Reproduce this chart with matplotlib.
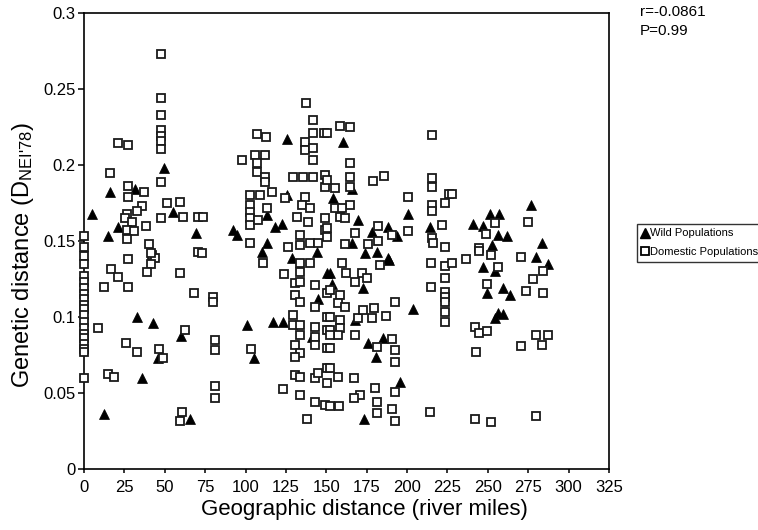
import matplotlib
matplotlib.use("Agg")
import matplotlib.pyplot as plt
from matplotlib.lines import Line2D

plt.rcParams['font.family'] = ['Liberation Sans', 'DejaVu Sans']
plt.rcParams['mathtext.fontset'] = 'custom'
plt.rcParams['mathtext.rm'] = 'Liberation Sans'
plt.rcParams['mathtext.it'] = 'Liberation Sans:italic'
plt.rcParams['mathtext.bf'] = 'Liberation Sans:bold'

# ---- data ----
wild_x = [5, 16.1, 31.6, 49.5, 55.1, 21, 14.9, 69.3, 32.8, 42.7, 60, 45.8, 35.9, 12.4, 65.6,
          125.7, 92.3, 94.7, 118.3, 122.6, 113.3, 113.3, 110.2, 128.8, 144.3, 125.7, 150.5,
          144.9, 100.9, 117, 123.2, 105.3, 141.2,
          160.4, 165.9, 154.2, 169.7, 200.6, 214.2, 188.2, 178.3, 193.8, 174, 181.4, 188.2,
          165.9, 188.9, 152.3, 153.6, 172.8, 167.8, 175.9, 185.1, 180.8, 203.7, 195.7, 173.4,
          276.8, 251.4, 257, 240.9, 247.1, 256.3, 261.9, 283.6, 252.6, 279.9,
          247.1, 254.5, 287.3, 249.5, 259.4, 263.8, 256.3, 254.5, 259.4]
wild_y = [0.168, 0.182, 0.184, 0.198, 0.169, 0.159, 0.153, 0.155, 0.100, 0.096, 0.0875, 0.073,
          0.060, 0.036, 0.033,
          0.217, 0.157, 0.154, 0.159, 0.161, 0.167, 0.149, 0.143, 0.139, 0.143, 0.180, 0.129,
          0.112, 0.095, 0.097, 0.097, 0.073, 0.087,
          0.215, 0.184, 0.178, 0.164, 0.168, 0.159, 0.159, 0.156, 0.153, 0.142, 0.143, 0.139,
          0.149, 0.1375, 0.129, 0.122, 0.119, 0.098, 0.083, 0.086, 0.074, 0.105, 0.057, 0.033,
          0.174, 0.168, 0.168, 0.161, 0.160, 0.154, 0.153, 0.149, 0.1474, 0.1395,
          0.133, 0.130, 0.135, 0.116, 0.119, 0.1145, 0.1026, 0.0993, 0.102]

dom_x = [0] * 20 + [
    47.7, 47.7, 47.7, 47.7, 47.7, 47.7, 47.7, 21, 27.2, 16.1, 47.7, 27.2, 27.2, 37.2, 51.4,
    59.4, 35.9, 32.8, 26.6, 25.4, 29.7, 47.7, 61.3, 70.6, 26.6, 31, 38.4, 26.6, 40.2, 42.1,
    44, 70.6, 27.2, 41.5, 41.5, 39, 16.7, 21, 27.2, 12.4, 59.4, 68.1, 8.7, 62.5, 26, 32.8,
    46.4, 48.9, 14.9, 18.6, 60.7, 59.4,
    73.7, 73, 79.9, 79.9, 81.1, 81.1, 81.1, 81.1,
    137.5, 141.8, 107.1, 112.7, 141.8, 148.6, 136.8, 97.8, 105.9, 112, 107.1, 107.1, 112,
    129.4, 135.6, 141.8, 136.8, 141.8, 141.8, 149.2, 149.2, 112, 102.8, 109, 116.4, 124.5,
    102.8, 113.3, 136.8, 135, 139.9, 131.9, 138.7, 149.2, 102.8, 102.8, 102.8, 107.7, 102.8,
    126.3, 133.7, 133.7, 139.9, 144.9, 149.2, 110.8, 123.8, 130.7, 133.7, 133.7, 139.9,
    133.7, 143, 130.7, 133.7, 143, 129.4, 129.4, 133.7, 133.7, 130.7, 133.7, 130.7, 143,
    143, 143, 150.5, 150.5, 150.5, 130.7, 133.7, 123.2, 133.7, 143, 144.9, 143, 149.2,
    138.1, 150.5, 150.5, 103.4,
    158.5, 164.7, 150.5, 215.5, 164.7, 164.7, 164.7, 178.9, 185.8, 155.4, 150.5, 215.5,
    215.5, 200.6, 226, 223.5, 215.5, 215.5, 164.7, 155.4, 159.8, 158.5, 161.6, 150.5,
    150.5, 200.6, 221.7, 215.5, 216.1, 223.5, 167.8, 161.6, 175.9, 182, 182, 190.7,
    159.8, 162.2, 167.8, 172.1, 175.2, 183.3, 152.3, 158.5, 157.3, 161.6, 152.3, 158.5,
    158.5, 152.3, 157.3, 152.3, 152.3, 169.7, 172.8, 178.3, 179.6, 187, 167.8, 181.4,
    190.7, 192.6, 192.6, 192.6, 152.3, 157.3, 150.5, 167.2, 180.2, 170.9, 167.2, 181.4,
    181.4, 190.7, 192.6, 192.6, 152.3, 157.9, 214.2, 214.9, 223.5, 227.9, 214.9, 223.5,
    223.5, 223.5, 223.5, 223.5, 223.5,
    274.9, 248.9, 254.5, 244.6, 227.9, 252, 236.5, 270.6, 244.6, 256.3, 284.2, 278, 249.5,
    273.7, 284.2, 242.1, 244.6, 249.5, 242.7, 270.6, 279.9, 287.3, 283.6, 242.1, 252, 279.9]
dom_y = [0.153, 0.146, 0.140, 0.135, 0.127, 0.123, 0.119, 0.115, 0.112, 0.108, 0.105, 0.101,
         0.097, 0.093, 0.089, 0.086, 0.082, 0.079, 0.077, 0.060] + [
    0.273, 0.244, 0.233, 0.223, 0.219, 0.216, 0.2105, 0.2145, 0.213, 0.195, 0.189, 0.186,
    0.179, 0.182, 0.175, 0.1757, 0.173, 0.170, 0.168, 0.165, 0.1625, 0.165, 0.166, 0.166,
    0.157, 0.1566, 0.160, 0.151, 0.148, 0.141, 0.139, 0.143, 0.138, 0.142, 0.135, 0.1296,
    0.1316, 0.126, 0.120, 0.120, 0.129, 0.116, 0.093, 0.0914, 0.083, 0.077, 0.079, 0.073,
    0.0625, 0.0605, 0.0375, 0.0316,
    0.166, 0.142, 0.113, 0.110, 0.085, 0.078, 0.0546, 0.0467,
    0.241, 0.2296, 0.2204, 0.2184, 0.221, 0.221, 0.215, 0.2033, 0.2066, 0.2066, 0.2013,
    0.1954, 0.192, 0.192, 0.192, 0.192, 0.2099, 0.2112, 0.2033, 0.1934, 0.1855, 0.1888,
    0.1803, 0.1803, 0.1822, 0.1783, 0.1737, 0.1717, 0.179, 0.1737, 0.1717, 0.1658, 0.1625,
    0.1651, 0.169, 0.165, 0.1605, 0.1638, 0.1487, 0.146, 0.154, 0.1474, 0.1487, 0.1487,
    0.157, 0.1355, 0.128, 0.1224, 0.1355, 0.1296, 0.1355, 0.123, 0.121, 0.1145, 0.110,
    0.1066, 0.1013, 0.0947, 0.0947, 0.088, 0.0816, 0.0763, 0.0737, 0.0934, 0.0868, 0.0816,
    0.100, 0.0914, 0.0796, 0.0618, 0.0605, 0.0526, 0.0487, 0.060, 0.063, 0.044, 0.042,
    0.033, 0.116, 0.0664, 0.079,
    0.2257, 0.225, 0.221, 0.2197, 0.2013, 0.192, 0.1855, 0.1895, 0.1928, 0.185, 0.190,
    0.1914, 0.1855, 0.179, 0.181, 0.175, 0.1737, 0.170, 0.1737, 0.1717, 0.1717, 0.1658,
    0.165, 0.1586, 0.1526, 0.1566, 0.1605, 0.152, 0.1487, 0.146, 0.1553, 0.148, 0.148,
    0.150, 0.160, 0.154,
    0.1355, 0.129, 0.123, 0.129, 0.1257, 0.134, 0.1178, 0.1145, 0.109, 0.1066, 0.100,
    0.098, 0.0928, 0.0914, 0.088, 0.088, 0.0796, 0.0993, 0.1046, 0.0993, 0.106, 0.1007,
    0.088, 0.080, 0.0855, 0.0783, 0.0704, 0.110, 0.0664, 0.0605, 0.0566, 0.060, 0.0533,
    0.0487, 0.0467, 0.044, 0.0368, 0.0395, 0.0316, 0.0507, 0.0414, 0.0414, 0.0375, 0.1355,
    0.1336, 0.1355, 0.1197, 0.1257, 0.1164, 0.1132, 0.110, 0.1033, 0.0967,
    0.1625, 0.1546, 0.162, 0.1454, 0.181, 0.141, 0.138, 0.1395, 0.1434, 0.133, 0.130,
    0.125, 0.1217, 0.117, 0.1158, 0.0934, 0.0895, 0.0908, 0.077, 0.081, 0.088, 0.088,
    0.0816, 0.0329, 0.0309, 0.0349]

x_ticks = [0, 25, 50, 75, 100, 125, 150, 175, 200, 225, 250, 275, 300, 325]
y_ticks = [0, 0.05, 0.1, 0.15, 0.2, 0.25, 0.3]
y_tick_labels = ["0", "0.05", "0.1", "0.15", "0.2", "0.25", "0.3"]
series_names = ["Wild Populations", "Domestic Populations"]
stats_text = "r=-0.0861\nP=0.99"

# ---- figure ----
fig = plt.figure(figsize=(7.58, 5.30), dpi=100)
ax = fig.add_axes([84 / 758, 1 - 469 / 530, (609 - 84) / 758, (469 - 13) / 530])

ax.plot(wild_x, wild_y, linestyle='none', marker='^', markersize=7.4,
        markerfacecolor='black', markeredgecolor='black', markeredgewidth=0.5,
        clip_on=False, zorder=3)
ax.plot(dom_x, dom_y, linestyle='none', marker='s', markersize=6.2,
        markerfacecolor='white', markeredgecolor='#1a1a1a', markeredgewidth=1.3,
        clip_on=False, zorder=4)

ax.set_xlim(0, 325)
ax.set_ylim(0, 0.3)
ax.set_xticks(x_ticks)
ax.set_xticklabels([str(t) for t in x_ticks])
ax.set_yticks(y_ticks)
ax.set_yticklabels(y_tick_labels)
ax.tick_params(axis='x', direction='out', length=3, width=1.1, labelsize=12,
               colors='black', pad=5)
ax.tick_params(axis='y', direction='out', length=4.5, width=1.1, labelsize=12,
               colors='black', pad=1.5)
for sp in ax.spines.values():
    sp.set_linewidth(1.2)
    sp.set_color('black')

ax.set_xlabel("Geographic distance (river miles)", fontsize=16)
ax.xaxis.set_label_coords(0.535, -0.066)
ax.set_ylabel(r"Genetic distance (D$_{\text{NEI'78}}$)", fontsize=17)
ax.yaxis.set_label_coords(-0.092, 0.47)

fig.text(640 / 758, 1 - 5 / 530, stats_text, ha='left', va='top', fontsize=11,
         linespacing=1.45)

handles = [
    Line2D([], [], linestyle='none', marker='^', markersize=6.5,
           markerfacecolor='black', markeredgecolor='black'),
    Line2D([], [], linestyle='none', marker='s', markersize=5.5,
           markerfacecolor='white', markeredgecolor='black', markeredgewidth=1.3),
]
leg = fig.legend(handles, series_names, loc='upper left',
                 bbox_to_anchor=(637 / 758, 1 - 224 / 530), fontsize=8,
                 frameon=True, fancybox=False, handlelength=0.6, handletextpad=0.2,
                 borderpad=0.4, labelspacing=0.8, borderaxespad=0)
leg.get_frame().set_edgecolor('black')
leg.get_frame().set_linewidth(1.0)

fig.savefig("out.png", dpi=100)
